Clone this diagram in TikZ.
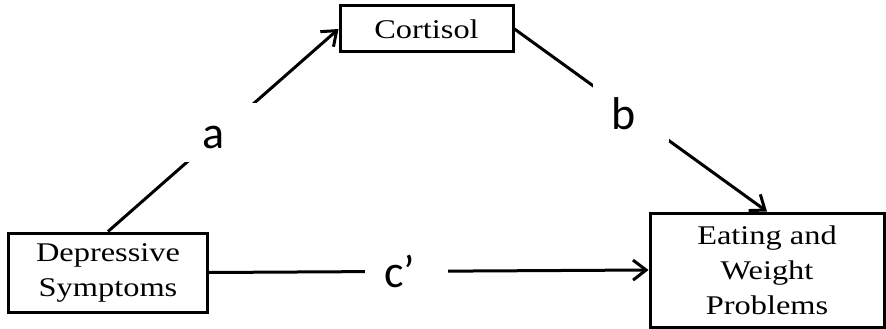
\documentclass[tikz,border=0pt]{standalone}
\usepackage{fontspec}
\newfontfamily\varfont[FakeStretch=1.2]{Liberation Serif}
\newfontfamily\coeffont{Carlito}
\usetikzlibrary{arrows.meta}
\begin{document}
\begin{tikzpicture}[x=1pt, y=-1pt,
    var/.style={draw, black, line width=3pt, align=center, inner sep=0pt,
        font=\varfont\fontsize{27}{35}\selectfont},
    coef/.style={fill=white, inner xsep=19pt, inner ysep=13pt,
        text height=33pt, text depth=0pt,
        execute at end node={\hspace{14pt}},
        font=\coeffont\fontsize{46}{50}\selectfont},
    seta/.style={line width=3pt, -{Straight Barb[length=13pt, width=20pt]}}]
    \useasboundingbox (0,0) rectangle (886,329);
    %vértices
    \draw (108,272.5) node[var, minimum width=199pt, minimum height=79pt](dep){Depressive\\Symptoms}
    (426.5,29) node[var, minimum width=173pt, minimum height=46pt](cort){Cortisol}
    (767,270) node[var, minimum width=234pt, minimum height=114pt](eat){Eating and\\Weight\\Problems};

    %arestas
    \draw[seta] (dep.north) -- node[coef, pos=0.49]{a} (cort.west);
    \draw[seta] (cort.east) -- node[coef, pos=0.46]{b} (eat.north);
    \draw[seta] (dep.east) -- node[coef, pos=0.45]{c’} (eat.west);
\end{tikzpicture}
\end{document}
